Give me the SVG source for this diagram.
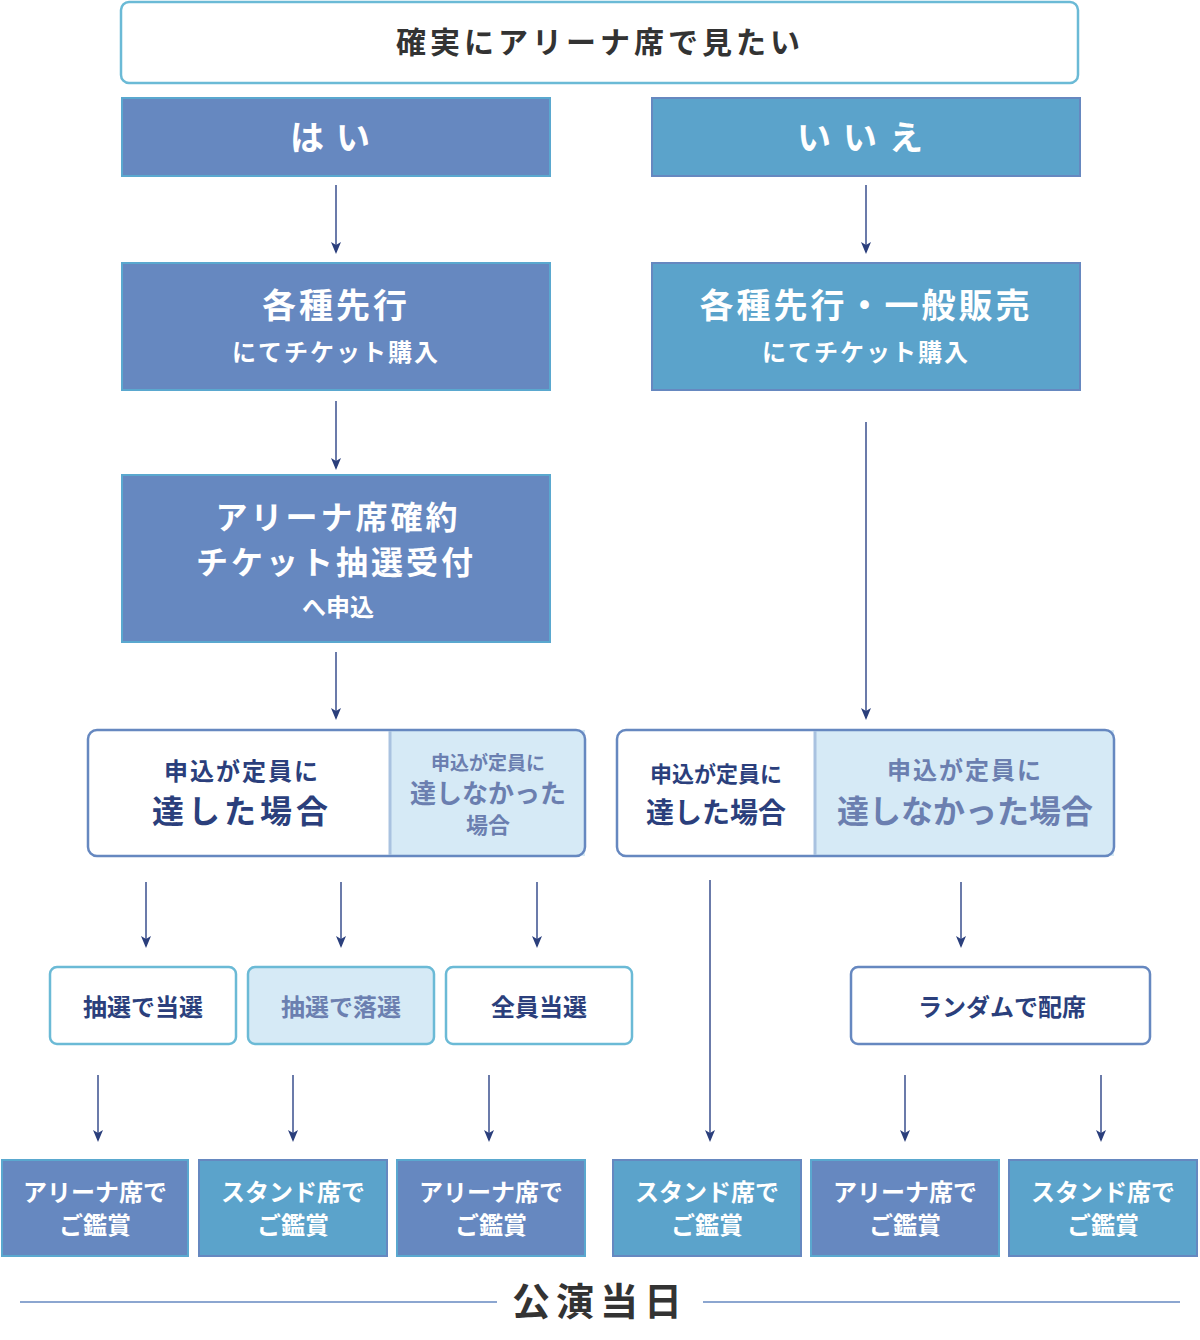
<svg xmlns="http://www.w3.org/2000/svg" width="1200" height="1340" viewBox="0 0 1200 1340">
<style>
text{font-family:"Noto Sans CJK JP",sans-serif;font-weight:700;text-anchor:middle}
.w{fill:#fff}.n{fill:#2b3f7c}.m{fill:#6b7fb0}
.v{fill:#6688c0;stroke:#5aa8cf;stroke-width:2}
.b{fill:#5ba3cb;stroke:#6688c0;stroke-width:2}
.o{fill:#fff;stroke:#6688c0;stroke-width:2.5}
.ol{fill:#fff;stroke:#6bbad6;stroke-width:2.5}
.l{fill:#d6eaf6;stroke:#6bbad6;stroke-width:2.5}
.c{stroke:#3a4f8e;stroke-width:1.5;fill:none}
</style>
<defs><marker id="d" viewBox="0 0 12 10" refX="10" refY="5" markerWidth="12" markerHeight="10" markerUnits="userSpaceOnUse" orient="auto"><path d="M0,0L12,5L0,10L3,5Z" fill="#2b3f7c"/></marker></defs>
<g id="top"><rect x="121" y="2" width="957" height="81" rx="8" class="ol"/><text x="600" y="53" font-size="30" fill="#333" letter-spacing="4">確実にアリーナ席で見たい</text></g>
<g id="yes"><rect x="122" y="98" width="428" height="78" class="v"/><text x="336" y="150" font-size="34" class="w" letter-spacing="12">はい</text></g>
<g id="no"><rect x="652" y="98" width="428" height="78" class="b"/><text x="866" y="150" font-size="34" class="w" letter-spacing="12">いいえ</text></g>
<g id="y1"><rect x="122" y="263" width="428" height="127" class="v"/><text x="336" y="318" font-size="34" class="w" letter-spacing="3">各種先行</text><text x="336" y="361" font-size="24" class="w" letter-spacing="2">にてチケット購入</text></g>
<g id="n1"><rect x="652" y="263" width="428" height="127" class="b"/><text x="866" y="318" font-size="34" class="w" letter-spacing="3">各種先行・一般販売</text><text x="866" y="361" font-size="24" class="w" letter-spacing="2">にてチケット購入</text></g>
<g id="y2"><rect x="122" y="475" width="428" height="167" class="v"/><text x="338" y="529" font-size="32" class="w" letter-spacing="3">アリーナ席確約</text><text x="336" y="574" font-size="32" class="w" letter-spacing="3">チケット抽選受付</text><text x="338" y="616" font-size="24" class="w">へ申込</text></g>
<g id="ysplit"><rect x="390" y="730" width="195" height="126" fill="#d6eaf6"/><rect x="88" y="730" width="497" height="126" rx="9" fill="none" stroke="#6688c0" stroke-width="2.5"/><line x1="390" y1="731" x2="390" y2="855" stroke="#a9c2e0" stroke-width="3"/>
<text x="242" y="780" font-size="24" class="n" letter-spacing="2">申込が定員に</text><text x="242" y="823" font-size="32" class="n" letter-spacing="4">達した場合</text>
<text x="488" y="770" font-size="19" class="m">申込が定員に</text><text x="488" y="803" font-size="26" class="m">達しなかった</text><text x="488" y="833" font-size="22" class="m">場合</text></g>
<g id="nsplit"><rect x="815" y="730" width="299" height="126" fill="#d6eaf6"/><rect x="617" y="730" width="497" height="126" rx="9" fill="none" stroke="#6688c0" stroke-width="2.5"/><line x1="815" y1="731" x2="815" y2="855" stroke="#a9c2e0" stroke-width="3"/>
<text x="716" y="782" font-size="22" class="n">申込が定員に</text><text x="716" y="823" font-size="28" class="n">達した場合</text>
<text x="965" y="779" font-size="24" class="m" letter-spacing="2">申込が定員に</text><text x="965" y="823" font-size="32" class="m">達しなかった場合</text></g>
<g id="r1"><rect x="50" y="967" width="186" height="77" rx="7" class="ol"/><text x="143" y="1016" font-size="24" class="n">抽選で当選</text></g>
<g id="r2"><rect x="248" y="967" width="186" height="77" rx="7" class="l"/><text x="341" y="1016" font-size="24" class="m">抽選で落選</text></g>
<g id="r3"><rect x="446" y="967" width="186" height="77" rx="7" class="ol"/><text x="539" y="1016" font-size="24" class="n">全員当選</text></g>
<g id="r4"><rect x="851" y="967" width="299" height="77" rx="7" class="o"/><text x="1002" y="1016" font-size="24" class="n">ランダムで配席</text></g>
<g id="e1"><rect x="2" y="1160" width="186" height="96" class="v"/><text x="95" y="1201" font-size="24" class="w">アリーナ席で</text><text x="95" y="1234" font-size="24" class="w">ご鑑賞</text></g>
<g id="e2"><rect x="199" y="1160" width="188" height="96" class="b"/><text x="293" y="1201" font-size="24" class="w">スタンド席で</text><text x="293" y="1234" font-size="24" class="w">ご鑑賞</text></g>
<g id="e3"><rect x="397" y="1160" width="188" height="96" class="v"/><text x="491" y="1201" font-size="24" class="w">アリーナ席で</text><text x="491" y="1234" font-size="24" class="w">ご鑑賞</text></g>
<g id="e4"><rect x="613" y="1160" width="188" height="96" class="b"/><text x="707" y="1201" font-size="24" class="w">スタンド席で</text><text x="707" y="1234" font-size="24" class="w">ご鑑賞</text></g>
<g id="e5"><rect x="811" y="1160" width="188" height="96" class="v"/><text x="905" y="1201" font-size="24" class="w">アリーナ席で</text><text x="905" y="1234" font-size="24" class="w">ご鑑賞</text></g>
<g id="e6"><rect x="1009" y="1160" width="188" height="96" class="b"/><text x="1103" y="1201" font-size="24" class="w">スタンド席で</text><text x="1103" y="1234" font-size="24" class="w">ご鑑賞</text></g>
<g id="footer"><line x1="20" y1="1302" x2="497" y2="1302" stroke="#6688c0" stroke-width="1.5"/><line x1="703" y1="1302" x2="1180" y2="1302" stroke="#6688c0" stroke-width="1.5"/><text x="600" y="1315" font-size="38" fill="#333" letter-spacing="6">公演当日</text></g>
<g id="connectors" class="c">
<path d="M336 185V252" marker-end="url(#d)"/><path d="M866 185V252" marker-end="url(#d)"/>
<path d="M336 401V468" marker-end="url(#d)"/><path d="M866 422V718" marker-end="url(#d)"/>
<path d="M336 652V718" marker-end="url(#d)"/>
<path d="M146 882V946" marker-end="url(#d)"/><path d="M341 882V946" marker-end="url(#d)"/><path d="M537 882V946" marker-end="url(#d)"/><path d="M961 882V946" marker-end="url(#d)"/>
<path d="M710 880V1140" marker-end="url(#d)"/>
<path d="M98 1075V1140" marker-end="url(#d)"/><path d="M293 1075V1140" marker-end="url(#d)"/><path d="M489 1075V1140" marker-end="url(#d)"/><path d="M905 1075V1140" marker-end="url(#d)"/><path d="M1101 1075V1140" marker-end="url(#d)"/>
</g>
</svg>
